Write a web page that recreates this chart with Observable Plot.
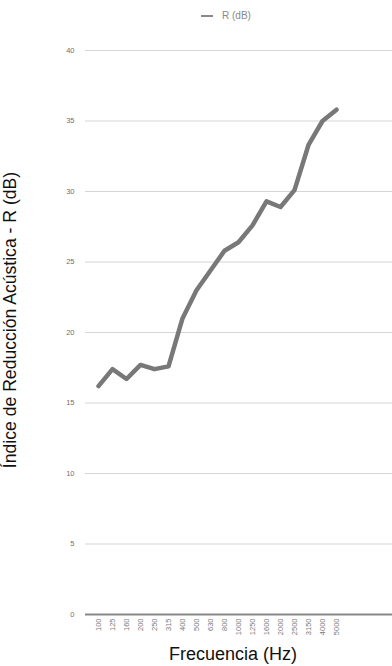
<!DOCTYPE html>
<html>
<head>
<meta charset="utf-8">
<script src="https://cdn.jsdelivr.net/npm/d3@7"></script>
<script src="https://cdn.jsdelivr.net/npm/@observablehq/plot@0.6"></script>
<style>
  html, body { margin: 0; padding: 0; background: #fff; overflow: hidden; }
  #wrap { position: relative; width: 392px; height: 666px; overflow: hidden; font-family: "Liberation Sans", Arial, sans-serif; }
  #chart svg { display: block; }
  #legend { position: absolute; top: 10px; left: 201px; font-size: 10px; color: #888; white-space: nowrap; line-height: 12px; }
  #legend span.sw { display: inline-block; width: 12px; height: 2px; background: #888; vertical-align: middle; margin-right: 9px; }
  #ytitle { position: absolute; left: 10px; top: 320px; transform: translate(-50%, -50%) rotate(-90deg); font-family: "Liberation Sans Narrow", "Arial Narrow", "Liberation Sans", sans-serif; font-size: 17.6px; color: #111; white-space: nowrap; }
  #xtitle { position: absolute; left: 233px; top: 654px; transform: translate(-50%, -50%); font-family: "Liberation Sans Narrow", "Arial Narrow", "Liberation Sans", sans-serif; font-size: 18px; color: #111; white-space: nowrap; }
</style>
</head>
<body>
<div id="wrap">
  <div id="chart"></div>
  <div id="legend"><span class="sw"></span>R (dB)</div>
  <div id="ytitle">Índice de Reducción Acústica - R (dB)</div>
  <div id="xtitle">Frecuencia (Hz)</div>
</div>
<script>
const frequencies = ["100","125","160","200","250","315","400","500","630","800","1000","1250","1600","2000","2500","3150","4000","5000"];
const rValues = [16.2, 17.4, 16.7, 17.7, 17.4, 17.6, 21.0, 23.0, 24.4, 25.8, 26.4, 27.6, 29.3, 28.9, 30.1, 33.3, 35.0, 35.8];
const yTicks = [0, 5, 10, 15, 20, 25, 30, 35, 40];

const data = frequencies.map((f, i) => ({f, r: rValues[i]}));

const chart = Plot.plot({
  width: 392,
  height: 666,
  marginLeft: 85,
  marginRight: 0,
  marginTop: 50,
  marginBottom: 52,
  style: {fontFamily: "Liberation Sans, Arial, sans-serif", fontSize: "7px", color: "#777", background: "white"},
  x: {type: "point", domain: frequencies, range: [87, 346]},
  y: {domain: [0, 40]},
  marks: [
    Plot.ruleY(yTicks.filter(d => d > 0), {stroke: "#d6d6d6", strokeWidth: 1.2}),
    Plot.axisY({ticks: yTicks, tickSize: 0, tickPadding: 11, label: null, fill: "#6f6f6f", fontSize: 7.5}),
    Plot.axisX({tickSize: 0, tickPadding: 4, tickRotate: -90, label: null, fill: "#7a7a7a", fontSize: 7.5}),
    Plot.ruleY([0], {stroke: "#888", strokeWidth: 2}),
    Plot.line(data, {x: "f", y: "r", stroke: "#787878", strokeWidth: 4.5, strokeLinejoin: "round", strokeLinecap: "round"})
  ]
});
document.getElementById("chart").appendChild(chart);
</script>
</body>
</html>
